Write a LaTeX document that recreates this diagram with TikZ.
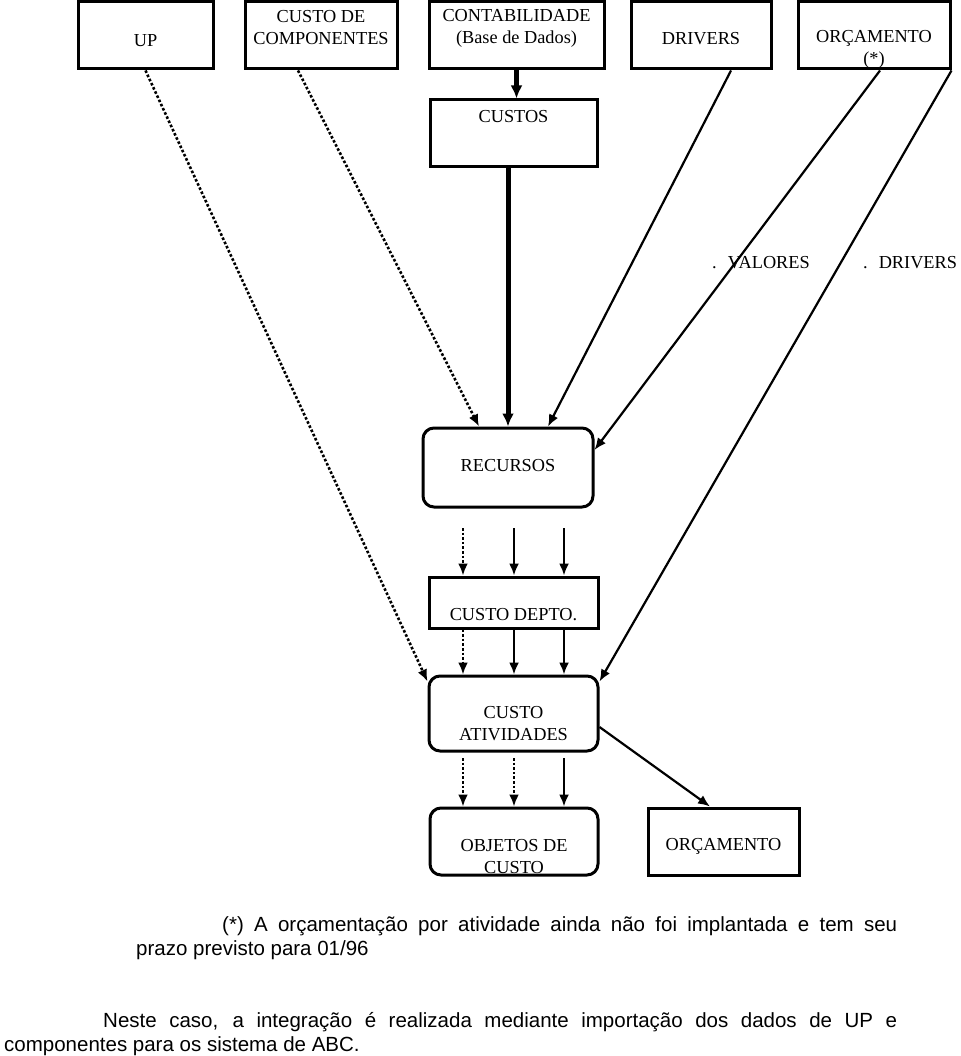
\documentclass[tikz,border=0pt]{standalone}
\usepackage{fontspec}
\setmainfont{Liberation Serif}
\newfontfamily\notefont{Liberation Sans}
\usetikzlibrary{arrows.meta}

\tikzset{
  box/.style={draw,line width=3pt,inner sep=0pt},
  rbox/.style={box,rounded corners=11pt},
  lbl/.style={inner sep=0pt,align=center,font=\fontsize{18.3}{22}\selectfont},
  arr/.style={-{Latex[length=12pt,width=10pt]},line width=2.2pt},
  dotarr/.style={arr,dash pattern=on 2.6pt off 2pt,line width=2.6pt},
  thickarr/.style={-{Latex[length=13pt,width=12pt]},line width=5pt},
  note/.style={inner sep=0pt,anchor=base west,font=\notefont\fontsize{20.5}{24}\selectfont},
}

\begin{document}
\begin{tikzpicture}[x=1pt,y=-1pt]
\useasboundingbox (0,0) rectangle (960,1056);
% caixas de cima
\node[box,minimum width=135,minimum height=67.5] (up)at(145.5,35.25){};
\node[box,minimum width=152,minimum height=67.5] (comp)at(321,35.25){};
\node[box,minimum width=175,minimum height=67.5] (cont)at(516.5,35.25){};
\node[box,minimum width=140,minimum height=67.5] (drivers)at(701,35.25){};
\node[box,minimum width=152,minimum height=67.5] (orc)at(874,35.25){};
\node[box,minimum width=167,minimum height=67] (custos)at(513.5,133.5){};
% caixas do meio
\node[rbox,minimum width=170,minimum height=79] (recursos)at(508,467.5){};
\node[box,minimum width=169,minimum height=51] (depto)at(513.5,602.5){};
\node[rbox,minimum width=169,minimum height=75] (ativ)at(513.5,713.5){};
\node[rbox,minimum width=168,minimum height=67] (obj)at(514,841.5){};
\node[box,minimum width=151,minimum height=67] (orc2)at(723.5,841.5){};
% textos
\node[lbl] (upT)at(145.5,41){UP};
\node[lbl] (compT)at(321,28){CUSTO DE\\COMPONENTES};
\node[lbl] (contT)at(516.5,28){CONTABILIDADE\\(Base de Dados)};
\node[lbl] (driversT)at(701,39){DRIVERS};
\node[lbl] (orcT)at(874,49.5){ORÇAMENTO\\(*)};
\node[lbl] (custosT)at(513.5,117){CUSTOS};
\node[lbl,anchor=base west] (valores)at(712,269){.\hspace{0.6em}VALORES};
\node[lbl,anchor=base west] (drv)at(863,269){.\hspace{0.6em}DRIVERS};
\node[lbl] (recursosT)at(508,466){RECURSOS};
\node[lbl] (deptoT)at(513.5,615){CUSTO DEPTO.};
\node[lbl] (ativT)at(513.5,724){CUSTO\\ATIVIDADES};
\node[lbl] (objT)at(514,857){OBJETOS DE\\CUSTO};
\node[lbl] (orc2T)at(723.5,846){ORÇAMENTO};
% ligacoes
\draw[thickarr] (cont.south) -- (cont.south |- custos.north);
\draw[thickarr] (custos.south -| recursos.north) -- (recursos.north);
\draw[arr] ([xshift=30pt]drivers.south) -- ([xshift=40pt]recursos.north);
\draw[arr] ([xshift=6pt]orc.south) -- ([yshift=17.5pt]recursos.east);
\draw[arr] (orc.south east) -- ([yshift=-7pt]ativ.north east);
\draw[dotarr] (up.south) -- ([yshift=-7pt]ativ.north west);
\draw[dotarr] ([xshift=-23pt]comp.south) -- ([xshift=-29pt]recursos.north);
\draw[arr] ([yshift=-13.5pt]ativ.east) -- ([xshift=-13.5pt]orc2.north);
% setas curtas
\coordinate (r1)at(463,528);
\coordinate (r2)at(514,528);
\coordinate (r3)at(564,528);
\draw[dotarr] (r1) -- (r1 |- depto.north);
\draw[arr] (r2) -- (r2 |- depto.north);
\draw[arr] (r3) -- (r3 |- depto.north);
\draw[dotarr] (r1 |- depto.south) -- (r1 |- ativ.north);
\draw[arr] (r2 |- depto.south) -- (r2 |- ativ.north);
\draw[arr] (r3 |- depto.south) -- (r3 |- ativ.north);
\coordinate (a1)at(463,758);
\coordinate (a2)at(514,758);
\coordinate (a3)at(564,758);
\draw[dotarr] (a1) -- (a1 |- obj.north);
\draw[dotarr] (a2) -- (a2 |- obj.north);
\draw[arr] (a3) -- (a3 |- obj.north);
% notas
\node[note] (nota1)at(222,931){\makebox[675pt][s]{(*) A orçamentação por atividade ainda não foi implantada e tem seu}};
\node[note] (nota2)at(136,955){prazo previsto para 01/96};
\node[note] (nota3)at(103,1027){\makebox[794pt][s]{Neste caso, a integração é realizada mediante importação dos dados de UP e}};
\node[note] (nota4)at(4,1051){componentes para os sistema de ABC.};
\end{tikzpicture}
\end{document}
